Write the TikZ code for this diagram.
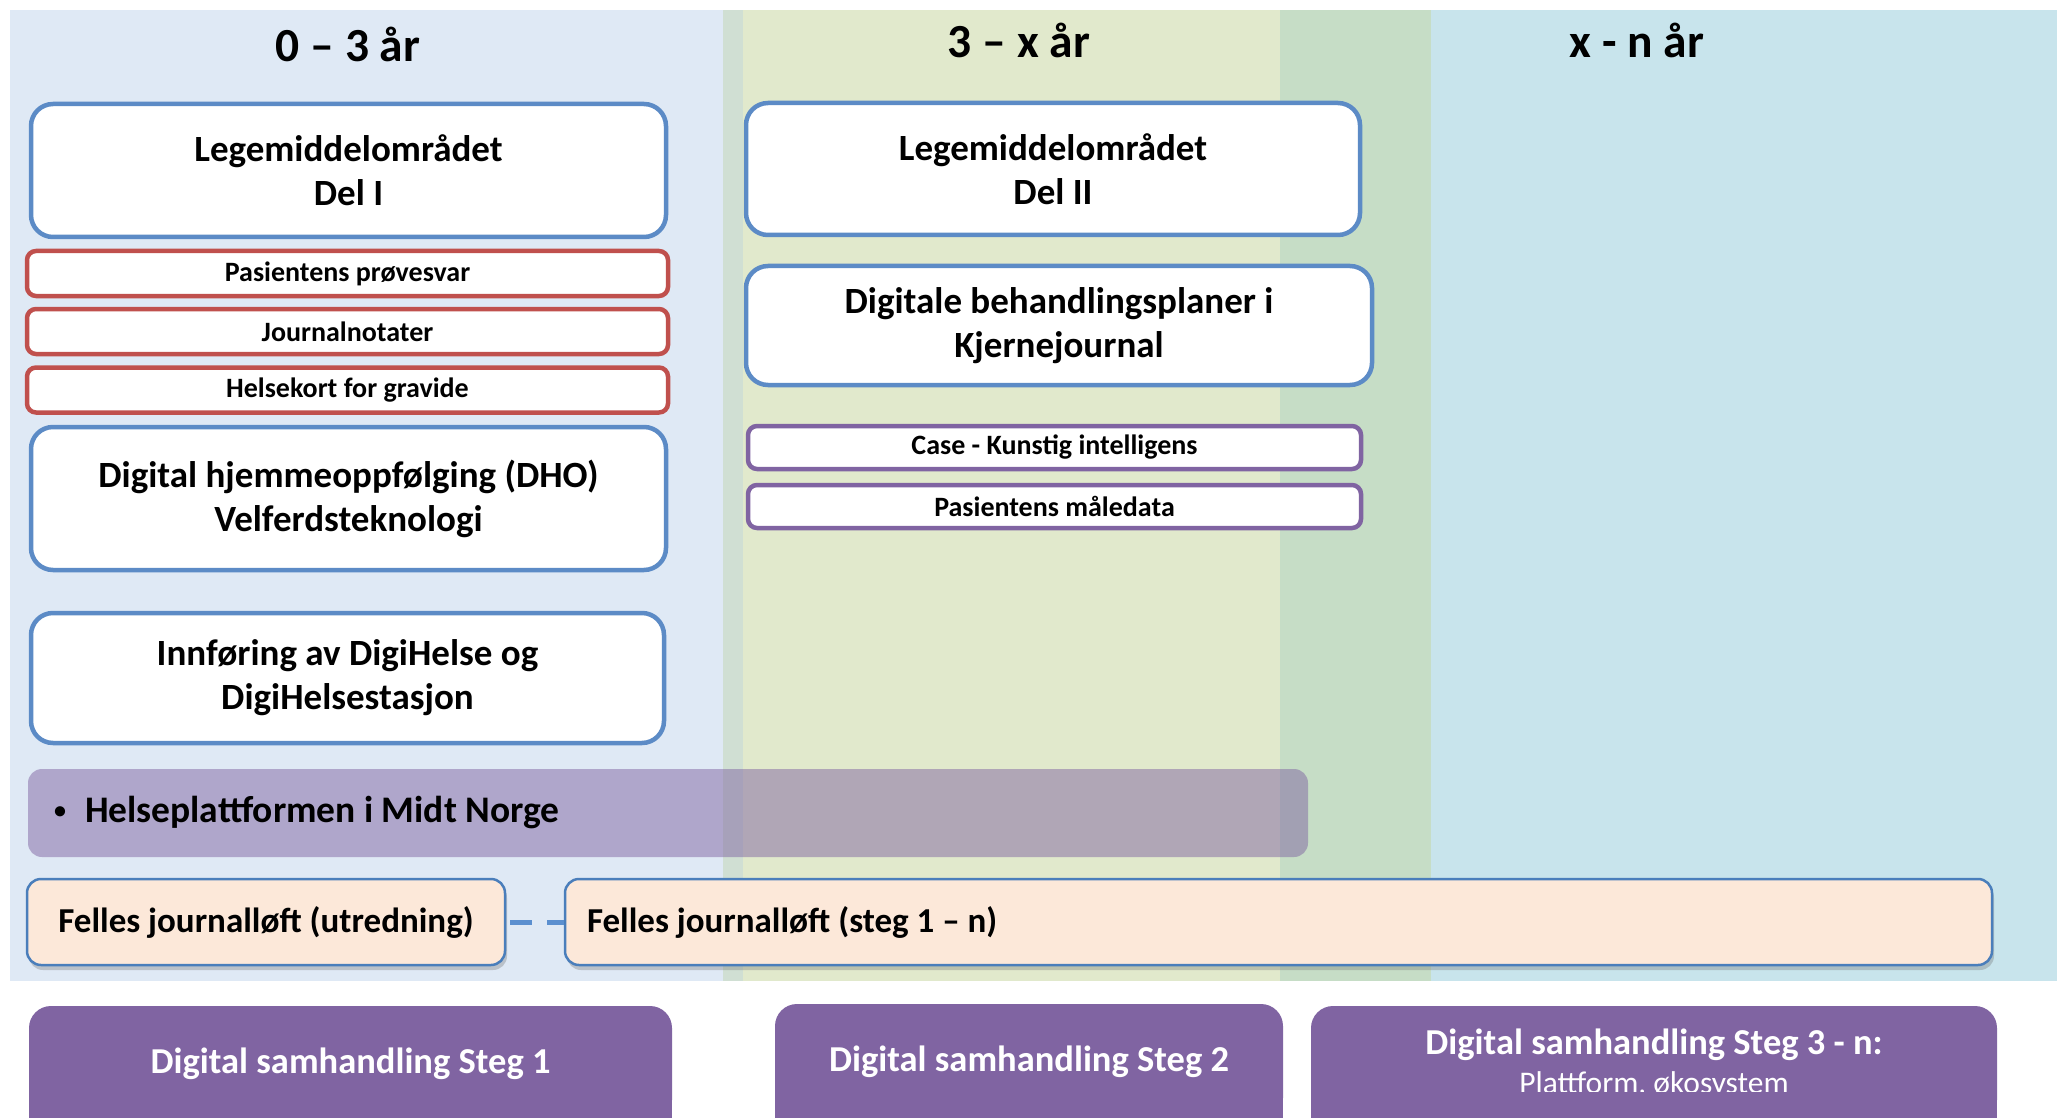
\documentclass[tikz,border=0pt]{standalone}
\usepackage{fontspec}
\setmainfont{Carlito}
\usetikzlibrary{shadows}

\definecolor{bandblue}{HTML}{DFE9F5}
\definecolor{bandstrip}{HTML}{D0DFD3}
\definecolor{bandgreen}{HTML}{E1E9CC}
\definecolor{banddeep}{HTML}{C6DDC6}
\definecolor{bandcyan}{HTML}{C8E4EC}
\definecolor{frameblue}{HTML}{5C8BC6}
\definecolor{framered}{HTML}{C0504D}
\definecolor{framepurple}{HTML}{8064A2}
\definecolor{peach}{HTML}{FCE8D9}
\definecolor{peachline}{HTML}{4A7EBB}
\definecolor{dashblue}{HTML}{5B8FCF}

\begin{document}
\begin{tikzpicture}[x=1pt,y=-1pt,
  headfont/.style={font=\fontsize{47.5}{57}\selectfont\bfseries},
  bluebox/.style={rectangle, draw=frameblue, line width=4.5pt, fill=white,
    rounded corners=22pt, align=center, inner sep=0pt,
    font=\fontsize{37}{44}\selectfont\bfseries},
  redbox/.style={rectangle, draw=framered, line width=4.5pt, fill=white,
    rounded corners=9pt, inner sep=0pt, minimum width=641pt, minimum height=45pt,
    font=\fontsize{28}{33}\selectfont\bfseries},
  violetbox/.style={rectangle, draw=framepurple, line width=4.5pt, fill=white,
    rounded corners=9pt, inner sep=0pt, minimum width=613pt, minimum height=43pt,
    font=\fontsize{28}{33}\selectfont\bfseries},
  hpbar/.style={rectangle, fill=framepurple, fill opacity=0.5, text opacity=1,
    rounded corners=14pt, inner xsep=26pt, inner ysep=0pt, align=flush left,
    minimum height=88pt, font=\fontsize{37.5}{42}\selectfont\bfseries},
  peachbox/.style={rectangle, fill=peach, draw=peachline, line width=2.5pt,
    rounded corners=14pt, minimum height=86pt, inner ysep=0pt,
    font=\fontsize{35}{41}\selectfont\bfseries,
    drop shadow={shadow xshift=2pt, shadow yshift=-5pt, opacity=0.3, fill=black!60}},
  stepbox/.style={rectangle, fill=framepurple, rounded corners=22pt, text=white,
    minimum height=116pt, inner sep=0pt, align=center,
    font=\fontsize{36.5}{41}\selectfont\bfseries},
  conn/.style={draw=dashblue, line width=5pt, dash pattern=on 22pt off 15pt,
    shorten <=4pt}
]
\useasboundingbox (0,0) rectangle (2057,1118);
\clip (0,0) rectangle (2057,1118);

% period bands
\fill[bandblue]  (10,10)   rectangle (723,981);
\fill[bandstrip] (723,10)  rectangle (743,981);
\fill[bandgreen] (743,10)  rectangle (1280,981);
\fill[banddeep]  (1280,10) rectangle (1431,981);
\fill[bandcyan]  (1431,10) rectangle (2057,981);

% period headings
\node[headfont] (h1) at (348,44)  {0 – 3 år};
\node[headfont] (h2) at (1019,40) {3 – x år};
\node[headfont] (h3) at (1637,40) {x - n år};

% first period
\node[bluebox, minimum width=635pt, minimum height=133pt] (lm1) at (348.5,170.5)
  {Legemiddelområdet\\Del I};
\node[redbox] (prove)  at (347.5,273.5) {Pasientens prøvesvar};
\node[redbox] (notat)  at (347.5,331.5) {Journalnotater};
\node[redbox] (gravid) at (347.5,390)   {Helsekort for gravide};
\node[bluebox, minimum width=635pt, minimum height=143pt] (dho) at (348.5,498.5)
  {Digital hjemmeoppfølging (DHO)\\Velferdsteknologi};
\node[bluebox, minimum width=633pt, minimum height=130pt] (digi) at (347.5,678)
  {Innføring av DigiHelse og\\DigiHelsestasjon};

% second period
\node[bluebox, minimum width=614pt, minimum height=132pt] (lm2) at (1053,169)
  {Legemiddelområdet\\Del II};
\node[bluebox, minimum width=626pt, minimum height=119pt] (dbp) at (1059,325.5)
  {Digitale behandlingsplaner i\\Kjernejournal};
\node[violetbox] (kiai) at (1054.5,447.5) {Case - Kunstig intelligens};
\node[violetbox] (maal) at (1054.5,506.5) {Pasientens måledata};

% regional platform bar
\node[hpbar, text width=1228pt] (hp) at (668,813)
  {\makebox[31pt][l]{\raisebox{4pt}{\fontsize{24}{24}\selectfont•}}Helseplattformen i Midt Norge};

% shared record track
\node[peachbox, minimum width=478pt] (fj1) at (266,922) {Felles journalløft (utredning)};
\node[peachbox, inner xsep=22pt, text width=1383pt, align=flush left] (fj2) at (1278.5,922)
  {Felles journalløft (steg 1 – n)};
\draw[conn] (fj1.east) -- (fj2.west);

% interaction steps
\node[stepbox, minimum width=643pt] (ds1) at (350.5,1064) {Digital samhandling Steg 1};
\node[stepbox, minimum width=508pt] (ds2) at (1029,1062)  {Digital samhandling Steg 2};
\node[stepbox, minimum width=686pt] (ds3) at (1654,1064)
  {Digital samhandling Steg 3 - n:\\[-2pt]{\fontsize{31.5}{35}\selectfont\mdseries Plattform, økosystem}};
\foreach \s in {ds1,ds2,ds3}
  \fill[framepurple] ([yshift=30pt]\s.south west) rectangle (\s.south east);
\end{tikzpicture}
\end{document}
